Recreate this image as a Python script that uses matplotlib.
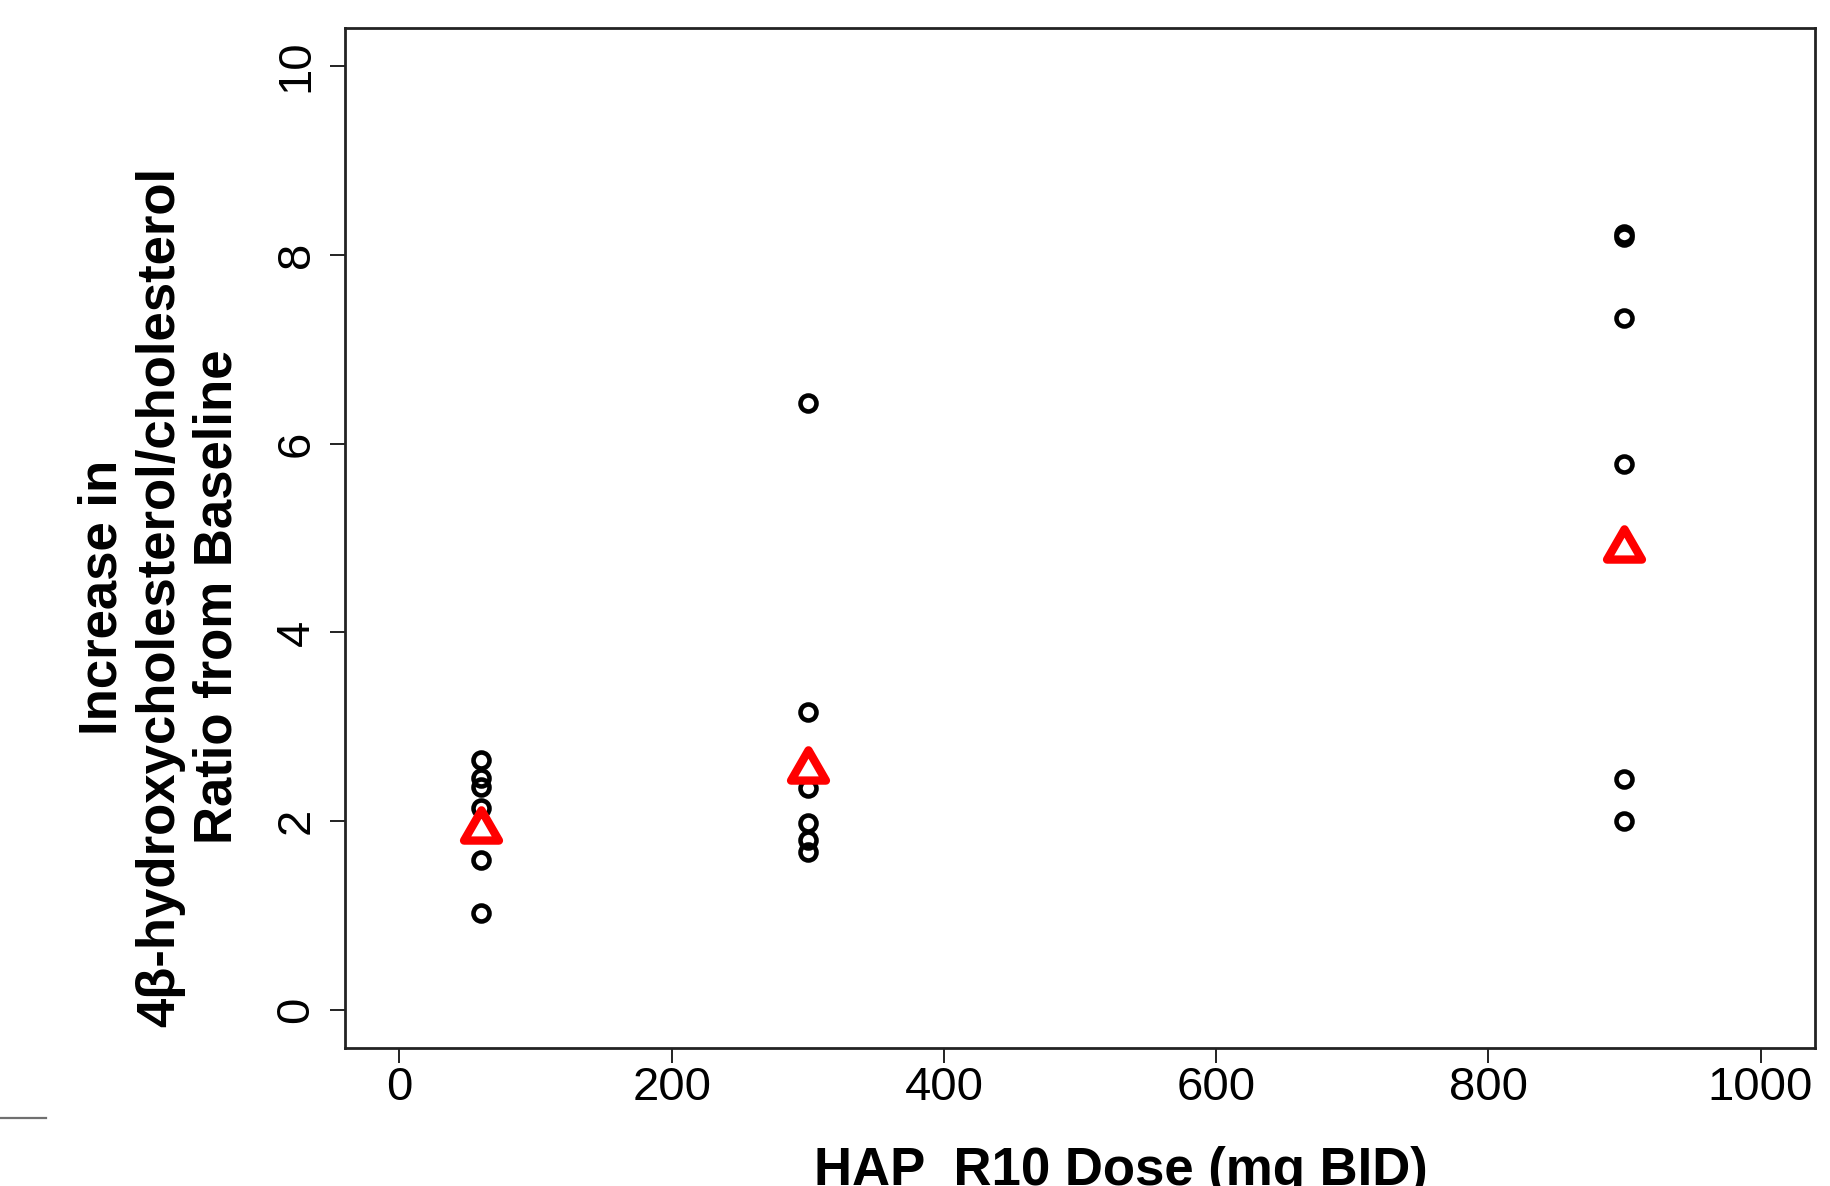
import matplotlib
matplotlib.use("Agg")
import matplotlib.pyplot as plt
from matplotlib.path import Path
from matplotlib.lines import Line2D
import numpy as np

plt.rcParams['font.family'] = ['Liberation Sans', 'DejaVu Sans']

# ---- data ----
dose_60 = [60, 60, 60, 60, 60, 60]
ratio_60 = [2.65, 2.46, 2.36, 2.14, 1.59, 1.03]
dose_300 = [300, 300, 300, 300, 300, 300]
ratio_300 = [6.43, 3.16, 2.35, 1.98, 1.80, 1.68]
dose_900 = [900, 900, 900, 900, 900, 900]
ratio_900 = [8.22, 8.19, 7.33, 5.78, 2.45, 2.00]

summary_dose = [60, 300, 900]
summary_ratio = [1.91, 2.54, 4.88]

x_ticks = [0, 200, 400, 600, 800, 1000]
y_ticks = [0, 2, 4, 6, 8, 10]
x_label = "HAP  R10 Dose (mg BID)"
y_label = "Increase in\n4\u03b2-hydroxycholesterol/cholesterol\nRatio from Baseline"

# ---- figure ----
W, H = 1830, 1186
fig = plt.figure(figsize=(W / 100, H / 100), dpi=100)
ax = fig.add_axes([345 / W, 1 - 1048 / H, (1815 - 345) / W, (1048 - 28) / H])

for d, r in [(dose_60, ratio_60), (dose_300, ratio_300), (dose_900, ratio_900)]:
    ax.plot(d, r, linestyle='none', marker='o', markersize=11.5,
            markerfacecolor='none', markeredgecolor='black', markeredgewidth=3.3)

# centroid-centred triangle like R's pch=2
tri = Path([(0, 1), (-0.866, -0.5), (0.866, -0.5), (0, 1)],
           [Path.MOVETO, Path.LINETO, Path.LINETO, Path.CLOSEPOLY])
ax.plot(summary_dose, summary_ratio, linestyle='none', marker=tri, markersize=29,
        markerfacecolor='none', markeredgecolor='#ff0000', markeredgewidth=6,
        zorder=5)

ax.set_xlim(-40, 1040)
ax.set_ylim(-0.4, 10.4)
ax.set_xticks(x_ticks)
ax.set_yticks(y_ticks)
ax.set_xticklabels([str(v) for v in x_ticks], fontsize=34)
ax.set_yticklabels([str(v) for v in y_ticks], fontsize=34, rotation=90, va='center')
ax.tick_params(axis='both', direction='out', length=11, width=1.4, color='#222222')
ax.tick_params(axis='x', pad=2)
ax.tick_params(axis='y', pad=8)
for s in ax.spines.values():
    s.set_linewidth(2.0)
    s.set_color('#222222')

fig.text(1121 / W, 1 - 1185 / H, x_label, fontsize=38, fontweight='bold',
         ha='center', va='baseline')
fig.text(160 / W, 1 - 597 / H, y_label, fontsize=38, fontweight='bold',
         rotation=90, ha='center', va='center', multialignment='center',
         linespacing=1.2)

fig.add_artist(Line2D([0, 46 / W], [1 - 1118 / H, 1 - 1118 / H], color='#707070',
                      linewidth=1.6, transform=fig.transFigure))

fig.savefig('out.png', dpi=100)
